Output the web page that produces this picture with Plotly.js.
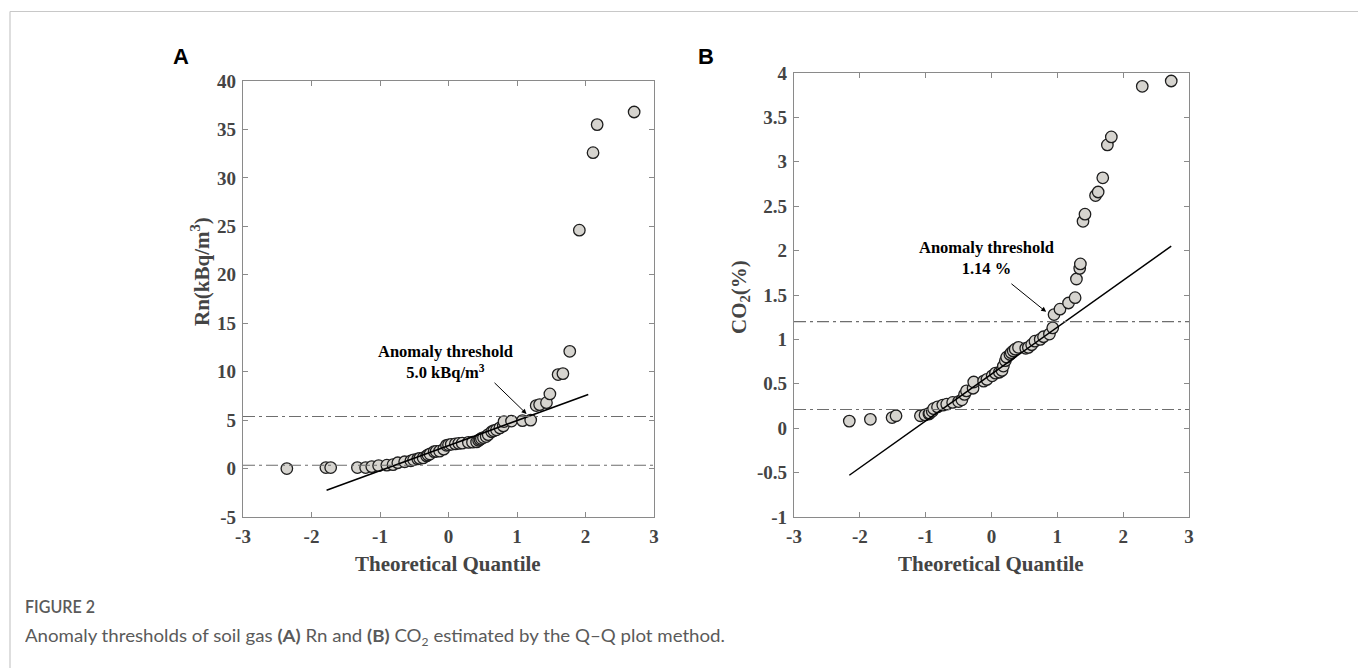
<!DOCTYPE html>
<html>
<head>
<meta charset="utf-8">
<script src="https://cdn.plot.ly/plotly-3.0.1.min.js"></script>
<style>
html,body{margin:0;padding:0;background:#fff;}
#wrap{position:relative;width:1358px;height:668px;overflow:hidden;}
#chart{position:absolute;left:0;top:0;width:1358px;height:668px;}
.cap{position:absolute;left:25px;white-space:nowrap;font-family:Lato,'Open Sans',sans-serif;color:#5a5a5a;transform-origin:0 50%;line-height:1.2;}
#capTitle{top:596px;font-size:18px;font-weight:600;}
#capText{top:626px;font-size:17px;font-weight:400;}
.cap b{font-weight:700;}
</style>
</head>
<body>
<div id="wrap">
<div id="chart"></div>
<div class="cap" id="capTitle">FIGURE 2</div>
<div class="cap" id="capText">Anomaly thresholds of soil gas <b>(A)</b> Rn and <b>(B)</b> CO<sub style="font-size:11px">2</sub> estimated by the Q–Q plot method.</div>
</div>
<script>
// ---- Data ----
const rnQuantile = [-2.36,-1.79,-1.72,-1.33,-1.21,-1.12,-1.02,-0.90,-0.81,-0.74,-0.64,-0.55,-0.51,-0.45,-0.42,-0.37,-0.32,-0.30,-0.27,-0.21,-0.18,-0.13,-0.07,-0.03,0.00,0.04,0.10,0.15,0.20,0.29,0.35,0.41,0.44,0.46,0.48,0.51,0.55,0.58,0.63,0.66,0.70,0.75,0.80,0.81,0.92,1.08,1.20,1.28,1.33,1.43,1.48,1.60,1.67,1.77,1.91,2.11,2.17,2.71];
const rnValue    = [0.0,0.1,0.1,0.1,0.1,0.2,0.3,0.35,0.4,0.6,0.7,0.8,0.9,1.0,1.05,1.1,1.3,1.4,1.5,1.75,1.78,1.8,2.0,2.4,2.45,2.5,2.55,2.6,2.62,2.7,2.72,2.75,2.9,3.0,3.1,3.2,3.3,3.5,3.8,3.9,4.0,4.2,4.4,4.85,4.9,4.95,5.0,6.5,6.6,6.8,7.7,9.7,9.8,12.1,24.6,32.6,35.5,36.8];
const rnFitQuantile = [-1.78, 2.04];
const rnFitValue    = [-2.24, 7.64];
const rnThresholdLines = [5.37, 0.34];

const co2Quantile = [-2.16,-1.84,-1.51,-1.45,-1.08,-1.01,-0.95,-0.94,-0.90,-0.88,-0.82,-0.74,-0.68,-0.59,-0.50,-0.45,-0.41,-0.38,-0.28,-0.27,-0.12,-0.07,0.01,0.06,0.12,0.16,0.18,0.21,0.23,0.28,0.30,0.33,0.36,0.41,0.52,0.56,0.61,0.66,0.74,0.79,0.88,0.93,0.95,1.04,1.17,1.27,1.29,1.34,1.35,1.39,1.42,1.58,1.62,1.69,1.76,1.82,2.29,2.73];
const co2Value    = [0.08,0.10,0.12,0.14,0.14,0.15,0.16,0.17,0.19,0.22,0.24,0.26,0.27,0.29,0.30,0.32,0.38,0.42,0.45,0.52,0.53,0.55,0.59,0.62,0.63,0.65,0.70,0.76,0.80,0.83,0.85,0.87,0.89,0.91,0.90,0.91,0.94,0.98,1.00,1.03,1.06,1.13,1.28,1.34,1.41,1.47,1.68,1.80,1.85,2.33,2.41,2.62,2.66,2.82,3.19,3.28,3.85,3.91];
const co2FitQuantile = [-2.16, 2.73];
const co2FitValue    = [-0.53, 2.05];
const co2ThresholdLines = [1.20, 0.21];

const xTickVals = [-3,-2,-1,0,1,2,3];
const xTickText = ["-3","-2","-1","0","1","2","3"];
const rnTickVals = [-5,0,5,10,15,20,25,30,35,40];
const rnTickText = ["-5","0","5","10","15","20","25","30","35","40"];
const co2TickVals = [-1,-0.5,0,0.5,1,1.5,2,2.5,3,3.5,4];
const co2TickText = ["-1","-0.5","0","0.5","1","1.5","2","2.5","3","3.5","4"];

// ---- Styling ----
const W = 1358, H = 668;
const px = v => v / W;
const py = v => 1 - v / H;
const serif = "'Liberation Serif', 'Times New Roman', serif";
const tickFont = {family: serif, size: 19, color: '#444', weight: 'bold'};
const markerStyle = {size: 11.5, color: '#d6d4cf', line: {color: '#1e1e1e', width: 1.3}};
const dashDot = '12px,4px,3px,4px';

function axisBase(extra) {
  return Object.assign({
    showline: true, mirror: 'ticks', linecolor: '#8a8a8a', linewidth: 1.2,
    ticks: 'inside', ticklen: 5, tickcolor: '#8a8a8a', tickwidth: 1,
    showgrid: false, zeroline: false, tickfont: tickFont, tickmode: 'array',
    ticklabelstandoff: 2, fixedrange: true
  }, extra);
}

const traces = [
  {x: rnQuantile, y: rnValue, xaxis: 'x', yaxis: 'y', mode: 'markers', type: 'scatter', marker: markerStyle, showlegend: false},
  {x: rnFitQuantile, y: rnFitValue, xaxis: 'x', yaxis: 'y', mode: 'lines', type: 'scatter', line: {color: '#000', width: 1.5}, showlegend: false},
  {x: co2Quantile, y: co2Value, xaxis: 'x2', yaxis: 'y2', mode: 'markers', type: 'scatter', marker: markerStyle, showlegend: false},
  {x: co2FitQuantile, y: co2FitValue, xaxis: 'x2', yaxis: 'y2', mode: 'lines', type: 'scatter', line: {color: '#000', width: 1.5}, showlegend: false}
];

const shapes = [];
rnThresholdLines.forEach(v => shapes.push({type: 'line', xref: 'x domain', yref: 'y', x0: 0, x1: 1, y0: v, y1: v, line: {color: '#6e6e6e', width: 1.1, dash: dashDot}}));
co2ThresholdLines.forEach(v => shapes.push({type: 'line', xref: 'x2 domain', yref: 'y2', x0: 0, x1: 1, y0: v, y1: v, line: {color: '#6e6e6e', width: 1.1, dash: dashDot}}));
// figure card border (top and left)
shapes.push({type: 'line', xref: 'paper', yref: 'paper', x0: px(10), x1: 1, y0: py(11.5), y1: py(11.5), line: {color: '#c8c8c8', width: 1.2}});
shapes.push({type: 'line', xref: 'paper', yref: 'paper', x0: px(10), x1: px(10), y0: py(11.5), y1: 0, line: {color: '#c8c8c8', width: 1.2}});

const annFont = {family: serif, size: 16.5, color: '#000', weight: 'bold'};
const letterFont = {family: "'Liberation Sans', Arial, sans-serif", size: 22, color: '#000', weight: 'bold'};
const titleFont = {family: serif, size: 21, color: '#444', weight: 'bold'};

function paperText(x, y, text, font, extra) {
  return Object.assign({xref: 'paper', yref: 'paper', x: px(x), y: py(y), xanchor: 'center', yanchor: 'middle', text: text, showarrow: false, font: font}, extra || {});
}

const annotations = [
  paperText(181, 56, 'A', letterFont),
  paperText(706, 56, 'B', letterFont),
  paperText(200, 272, 'Rn(kBq/m<sup>3</sup>)', titleFont, {textangle: -90}),
  paperText(740, 297, 'CO<sub>2</sub>(%)', titleFont, {textangle: -90}),
  paperText(448, 564, 'Theoretical Quantile', titleFont),
  paperText(991, 564, 'Theoretical Quantile', titleFont),
  {xref: 'x', yref: 'y', x: -0.05, y: 11.0, xanchor: 'center', yanchor: 'middle', text: 'Anomaly threshold<br>5.0 kBq/m<sup>3</sup>', showarrow: false, font: annFont, align: 'center'},
  {xref: 'x', yref: 'y', x: 1.14, y: 5.64, ax: 0.65, ay: 9.0, axref: 'x', ayref: 'y', text: '', showarrow: true, arrowhead: 2, arrowsize: 1, arrowwidth: 1, arrowcolor: '#000'},
  {xref: 'x2', yref: 'y2', x: -0.07, y: 1.92, xanchor: 'center', yanchor: 'middle', text: 'Anomaly threshold<br>1.14 %', showarrow: false, font: annFont, align: 'center'},
  {xref: 'x2', yref: 'y2', x: 0.83, y: 1.31, ax: 0.28, ay: 1.64, axref: 'x2', ayref: 'y2', text: '', showarrow: true, arrowhead: 2, arrowsize: 1, arrowwidth: 1, arrowcolor: '#000'}
];

const layout = {
  width: W, height: H,
  margin: {l: 0, r: 0, t: 0, b: 0},
  paper_bgcolor: 'rgba(0,0,0,0)', plot_bgcolor: '#fff',
  showlegend: false,
  xaxis: axisBase({domain: [px(243), px(654)], range: [-3, 3], tickvals: xTickVals, ticktext: xTickText, anchor: 'y'}),
  yaxis: axisBase({domain: [py(517), py(81)], range: [-5, 40], tickvals: rnTickVals, ticktext: rnTickText, anchor: 'x'}),
  xaxis2: axisBase({domain: [px(794), px(1189)], range: [-3, 3], tickvals: xTickVals, ticktext: xTickText, anchor: 'y2'}),
  yaxis2: axisBase({domain: [py(517), py(73)], range: [-1, 4], tickvals: co2TickVals, ticktext: co2TickText, anchor: 'x2'}),
  shapes: shapes,
  annotations: annotations
};

Plotly.newPlot('chart', traces, layout, {displayModeBar: false, staticPlot: true});

// condense caption text to the width it has in the reference
function fitCaption(id, target) {
  const el = document.getElementById(id);
  const w = el.getBoundingClientRect().width;
  if (w > 0) el.style.transform = 'scaleX(' + (target / w) + ')';
}
fitCaption('capTitle', 70);
fitCaption('capText', 700);
</script>
</body>
</html>
